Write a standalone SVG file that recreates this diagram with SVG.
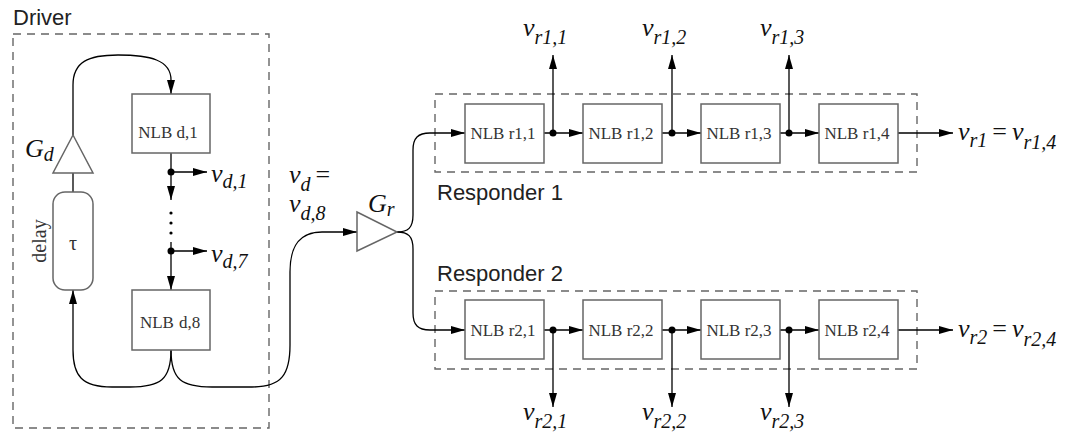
<svg xmlns="http://www.w3.org/2000/svg" width="1085" height="435" viewBox="0 0 1085 435">
<style>
.bg{fill:#fff}
.grp{fill:none;stroke:#666;stroke-width:1.4;stroke-dasharray:8 6}
.blk{fill:#fff;stroke:#666;stroke-width:1.5}
.con{fill:none;stroke:#000;stroke-width:1.3}
.arr{fill:none;stroke:#000;stroke-width:1.3;marker-end:url(#ah)}
.dot{fill:#000}
.nlb{font-family:"Liberation Serif",serif;font-size:17px;fill:#333;text-anchor:middle}
.ttl{font-family:"Liberation Sans",Arial,sans-serif;font-size:22px;fill:#222}
.mv{font-family:"Liberation Serif",serif;font-style:italic;font-size:26px;fill:#111}
.sub{font-size:20px}
.eq{font-style:normal}
.ser{font-family:"Liberation Serif",serif;font-size:20px;fill:#333}
</style>
<defs>
<marker id="ah" markerUnits="userSpaceOnUse" markerWidth="14" markerHeight="8" refX="14" refY="4" orient="auto">
<path d="M0,0 L14,4 L0,8 z" fill="#000"/>
</marker>
</defs>
<rect class="bg" x="0" y="0" width="1085" height="435"/>

<g id="driver">
<rect class="grp" x="13" y="34" width="256" height="394"/>
<text class="ttl" x="13" y="25" font-size="21">Driver</text>
</g>
<g id="responder1">
<rect class="grp" x="435" y="94" width="482" height="78"/>
<text class="ttl" x="437" y="200">Responder 1</text>
</g>
<g id="responder2">
<rect class="grp" x="435" y="291" width="482" height="78"/>
<text class="ttl" x="437" y="281">Responder 2</text>
</g>

<g id="connectors">
<!-- driver loop -->
<path class="arr" d="M73,135 L73,85 C73,62 88,55 118,55 C150,55 171,60 171,80 L171,94"/>
<path class="con" d="M73,173 L73,192"/>
<path class="con" d="M171,153 L171,172"/>
<path class="arr" d="M171,172 L207,172"/>
<path class="arr" d="M171,172 L171,200"/>
<circle class="dot" cx="171" cy="213" r="1.6"/>
<circle class="dot" cx="171" cy="223" r="1.6"/>
<circle class="dot" cx="171" cy="233" r="1.6"/>
<path class="con" d="M171,242 L171,251"/>
<path class="arr" d="M171,251 L207,251"/>
<path class="arr" d="M171,251 L171,290"/>
<path class="arr" d="M171,350 C171,380 160,387 130,387 L112,387 C82,387 73,376 73,350 L73,290"/>
<path class="arr" d="M171,350 C171,380 182,387 212,387 L252,387 C282,387 290,374 290,345 L290,272 C290,245 300,232 322,232 L357,232"/>
<!-- gain r split -->
<path class="arr" d="M397,232 C408,232 413,228 413,215 L413,150 C413,138 418,133 430,133 L465,133"/>
<path class="arr" d="M397,232 C408,232 413,236 413,249 L413,313 C413,325 418,330 430,330 L465,330"/>
<!-- responder 1 chain -->
<path class="arr" d="M544,133 L583,133"/>
<path class="arr" d="M662,133 L701,133"/>
<path class="arr" d="M780,133 L819,133"/>
<path class="arr" d="M898,133 L953,133"/>
<path class="arr" d="M553,133 L553,55"/>
<path class="arr" d="M672,133 L672,55"/>
<path class="arr" d="M789,133 L789,55"/>
<circle class="dot" cx="553" cy="133" r="3.5"/>
<circle class="dot" cx="672" cy="133" r="3.5"/>
<circle class="dot" cx="789" cy="133" r="3.5"/>
<!-- responder 2 chain -->
<path class="arr" d="M544,330 L583,330"/>
<path class="arr" d="M662,330 L701,330"/>
<path class="arr" d="M780,330 L819,330"/>
<path class="arr" d="M898,330 L953,330"/>
<path class="arr" d="M553,330 L553,407"/>
<path class="arr" d="M672,330 L672,407"/>
<path class="arr" d="M789,330 L789,407"/>
<circle class="dot" cx="553" cy="330" r="3.5"/>
<circle class="dot" cx="672" cy="330" r="3.5"/>
<circle class="dot" cx="789" cy="330" r="3.5"/>
<circle class="dot" cx="171" cy="172" r="3.5"/>
<circle class="dot" cx="171" cy="251" r="3.5"/>
</g>

<g id="gain-d">
<polygon class="blk" points="73,135 93,173 53,173"/>
<text class="mv" x="25" y="157">G<tspan class="sub" dy="4">d</tspan></text>
</g>
<g id="delay">
<rect class="blk" x="53" y="192" width="40" height="98" rx="12" ry="12"/>
<text class="ser" x="73" y="250" text-anchor="middle">τ</text>
<text class="ser" transform="translate(46,241) rotate(-90)" text-anchor="middle">delay</text>
</g>
<g id="nlb-d1">
<rect class="blk" x="132" y="94" width="78" height="59"/>
<text class="nlb" x="168" y="138">NLB d,1</text>
</g>
<g id="nlb-d8">
<rect class="blk" x="132" y="290" width="78" height="60"/>
<text class="nlb" x="170" y="328">NLB<tspan dx="5">d,8</tspan></text>
</g>
<g id="label-vd1"><text class="mv" x="211" y="182">v<tspan class="sub" dy="6">d,1</tspan></text></g>
<g id="label-vd7"><text class="mv" x="211" y="262">v<tspan class="sub" dy="6">d,7</tspan></text></g>
<g id="label-vd">
<text class="mv" x="289" y="183">v<tspan class="sub" dy="8">d</tspan><tspan class="eq" dy="-8" dx="5">=</tspan></text>
<text class="mv" x="289" y="212">v<tspan class="sub" dy="8">d,8</tspan></text>
</g>
<g id="gain-r">
<polygon class="blk" points="357,212 397,232 357,251"/>
<text class="mv" x="368" y="212">G<tspan class="sub" dy="4">r</tspan></text>
</g>

<g id="nlb-r11"><rect class="blk" x="465" y="104" width="79" height="59"/><text class="nlb" x="503" y="139">NLB r1,1</text></g>
<g id="nlb-r12"><rect class="blk" x="583" y="104" width="79" height="59"/><text class="nlb" x="621" y="139">NLB r1,2</text></g>
<g id="nlb-r13"><rect class="blk" x="701" y="104" width="79" height="59"/><text class="nlb" x="739" y="139">NLB r1,3</text></g>
<g id="nlb-r14"><rect class="blk" x="819" y="104" width="79" height="59"/><text class="nlb" x="857" y="139">NLB r1,4</text></g>
<g id="nlb-r21"><rect class="blk" x="465" y="300" width="79" height="59"/><text class="nlb" x="503" y="336">NLB r2,1</text></g>
<g id="nlb-r22"><rect class="blk" x="583" y="300" width="79" height="59"/><text class="nlb" x="621" y="336">NLB r2,2</text></g>
<g id="nlb-r23"><rect class="blk" x="701" y="300" width="79" height="59"/><text class="nlb" x="739" y="336">NLB r2,3</text></g>
<g id="nlb-r24"><rect class="blk" x="819" y="300" width="79" height="59"/><text class="nlb" x="857" y="336">NLB r2,4</text></g>

<g id="labels-r1">
<text class="mv" x="523" y="36">v<tspan class="sub" dy="8">r1,1</tspan></text>
<text class="mv" x="642" y="36">v<tspan class="sub" dy="8">r1,2</tspan></text>
<text class="mv" x="760" y="36">v<tspan class="sub" dy="8">r1,3</tspan></text>
<text class="mv" x="958" y="140">v<tspan class="sub" dy="7">r1</tspan><tspan class="eq" dy="-7" dx="5">=</tspan><tspan dx="5">v</tspan><tspan class="sub" dy="9">r1,4</tspan></text>
</g>
<g id="labels-r2">
<text class="mv" x="523" y="420">v<tspan class="sub" dy="8">r2,1</tspan></text>
<text class="mv" x="642" y="420">v<tspan class="sub" dy="8">r2,2</tspan></text>
<text class="mv" x="760" y="420">v<tspan class="sub" dy="8">r2,3</tspan></text>
<text class="mv" x="958" y="337">v<tspan class="sub" dy="7">r2</tspan><tspan class="eq" dy="-7" dx="5">=</tspan><tspan dx="5">v</tspan><tspan class="sub" dy="9">r2,4</tspan></text>
</g>
</svg>
